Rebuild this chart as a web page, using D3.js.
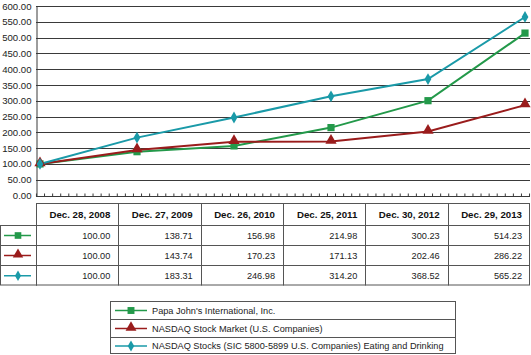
<!DOCTYPE html>
<html><head><meta charset="utf-8">
<script src="https://cdn.jsdelivr.net/npm/d3@7"></script>
<style>body{margin:0;background:#fff}svg{display:block}text{font-family:"Liberation Sans",Arial,sans-serif}</style>
</head><body><svg id="c" width="531" height="355"></svg>
<script>
const dates = ["Dec. 28, 2008","Dec. 27, 2009","Dec. 26, 2010","Dec. 25, 2011","Dec. 30, 2012","Dec. 29, 2013"];
const seriesNames = ["Papa John's International, Inc.","NASDAQ Stock Market (U.S. Companies)","NASDAQ Stocks (SIC 5800-5899 U.S. Companies) Eating and Drinking"];
const papaJohns = [100.00,138.71,156.98,214.98,300.23,514.23];
const nasdaqMarket = [100.00,143.74,170.23,171.13,202.46,286.22];
const nasdaqEating = [100.00,183.31,246.98,314.20,368.52,565.22];
const yTicks = [0,50,100,150,200,250,300,350,400,450,500,550,600];
const colors = ["#23994a","#9a1c1c","#1a9aa8"];
const symbols = [d3.symbolSquare, d3.symbolTriangle, d3.symbolDiamond];
const symSizes = [52, 55, 40];
const series = [papaJohns, nasdaqMarket, nasdaqEating];

const svg = d3.select("#c");
const x = d3.scaleLinear().domain([0,5]).range([40,525]);
const y = d3.scaleLinear().domain([0,600]).range([195.5,6]);
const plotL = 36, plotR = 530;
const grid = "#3a3a3a";

// gridlines
svg.append("g").selectAll("line").data(yTicks.filter(d=>d>0)).join("line")
  .attr("x1",plotL).attr("x2",plotR).attr("y1",d=>Math.round(y(d))+0.5).attr("y2",d=>Math.round(y(d))+0.5)
  .attr("stroke",grid).attr("stroke-width",1);

// y axis
const yAxis = d3.axisLeft(y).tickValues(yTicks).tickFormat(d3.format(".2f")).tickSize(0).tickPadding(5);
const ya = svg.append("g").attr("transform",`translate(${plotL+0.5},0)`).call(yAxis);
ya.select(".domain").attr("stroke",grid);
ya.selectAll("text").attr("font-size","9.6px").attr("fill","#222");

// x axis with monthly minor ticks
const minor = d3.range(-1,61).map(k=>(k+0.5)/12);
const xa = svg.append("g").attr("transform",`translate(0,${Math.round(y(0))+0.5})`)
  .call(d3.axisTop(x).tickValues(minor.filter(v=>x(v)>=plotL-0.5 && x(v)<=plotR)).tickSize(3).tickFormat(""));
xa.select(".domain").attr("d",`M${plotL},0H${plotR}`).attr("stroke",grid);
xa.selectAll(".tick line").attr("stroke",grid);

// lines + markers
series.forEach((s,i)=>{
  svg.append("path").datum(s).attr("fill","none").attr("stroke",colors[i]).attr("stroke-width",2)
    .attr("d",d3.line().x((d,j)=>x(j)).y(d=>y(d)));
});
series.forEach((s,i)=>{
  svg.append("g").selectAll("path").data(s).join("path")
    .attr("transform",(d,j)=>`translate(${x(j)},${y(d) + (i===1?-1:0)})`)
    .attr("d",d3.symbol().type(symbols[i]).size(symSizes[i])).attr("fill",colors[i]);
});

// table
const colEdges = d3.range(7).map(k=>plotL + k*(plotR-plotL)/6);
const rowEdges = [203,225,245,265,285.5];
const tb = "#555";
const tg = svg.append("g");
tg.append("rect").attr("x",plotL+0.5).attr("y",rowEdges[0]+0.5).attr("width",plotR-plotL-1).attr("height",rowEdges[1]-rowEdges[0]).attr("fill","none").attr("stroke",tb);
tg.append("rect").attr("x",0.5).attr("y",rowEdges[1]+0.5).attr("width",plotR-1).attr("height",rowEdges[4]-rowEdges[1]-1).attr("fill","none").attr("stroke",tb);
[rowEdges[2],rowEdges[3]].forEach(r=>tg.append("line").attr("x1",0).attr("x2",plotR).attr("y1",r+0.5).attr("y2",r+0.5).attr("stroke",tb));
colEdges.slice(0,6).forEach((c,k)=>tg.append("line").attr("x1",Math.round(c)+0.5).attr("x2",Math.round(c)+0.5)
  .attr("y1",k===0?rowEdges[1]:rowEdges[0]).attr("y2",rowEdges[4]).attr("stroke",tb));
tg.append("line").attr("x1",plotL+0.5).attr("x2",plotL+0.5).attr("y1",rowEdges[0]).attr("y2",rowEdges[4]).attr("stroke",tb);
dates.forEach((d,k)=>tg.append("text").attr("x",colEdges[k+1]-8).attr("y",(rowEdges[0]+rowEdges[1])/2+3.6)
  .attr("text-anchor","end").attr("font-size","9.7px").attr("font-weight","bold").attr("fill","#111").text(d));
series.forEach((s,i)=>{
  const cy = (rowEdges[i+1]+rowEdges[i+2])/2+0.5;
  tg.append("line").attr("x1",4).attr("x2",31).attr("y1",cy).attr("y2",cy).attr("stroke",colors[i]).attr("stroke-width",1.5);
  tg.append("path").attr("transform",`translate(18,${cy+(i===1?-1:0)})`).attr("d",d3.symbol().type(symbols[i]).size(symSizes[i]-8)).attr("fill",colors[i]);
  s.forEach((v,k)=>tg.append("text").attr("x",colEdges[k+1]-8).attr("y",cy+3.3).attr("text-anchor","end")
    .attr("font-size","9.2px").attr("fill","#222").text(d3.format(".2f")(v)));
});

// legend
const lg = svg.append("g");
const lRows = [301,319,337,354];
lg.append("rect").attr("x",110.5).attr("y",lRows[0]+0.5).attr("width",345).attr("height",lRows[3]-lRows[0]-1).attr("fill","none").attr("stroke",tb);
[lRows[1],lRows[2]].forEach(r=>lg.append("line").attr("x1",110).attr("x2",456).attr("y1",r+0.5).attr("y2",r+0.5).attr("stroke",tb));
seriesNames.forEach((n,i)=>{
  const cy = (lRows[i]+lRows[i+1])/2+0.5;
  lg.append("line").attr("x1",115).attr("x2",147).attr("y1",cy).attr("y2",cy).attr("stroke",colors[i]).attr("stroke-width",1.5);
  lg.append("path").attr("transform",`translate(131,${cy+(i===1?-1:0)})`).attr("d",d3.symbol().type(symbols[i]).size(symSizes[i]-4)).attr("fill",colors[i]);
  lg.append("text").attr("x",152).attr("y",cy+3.3).attr("font-size","9.2px").attr("fill","#222").text(n);
});
</script></body></html>
